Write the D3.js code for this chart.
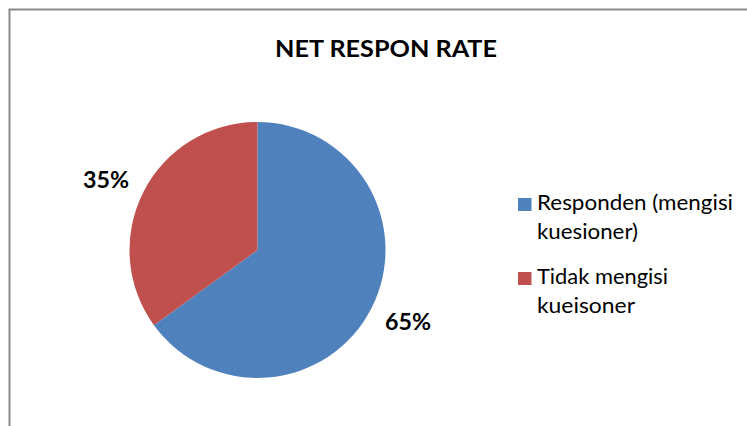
<!DOCTYPE html>
<html><head><meta charset="utf-8">
<script src="https://cdn.jsdelivr.net/npm/d3@7"></script>
<style>body{margin:0;background:#fff}svg{display:block}text{font-family:Lato,"Open Sans",sans-serif}</style>
</head><body>
<svg id="c" width="747" height="426"></svg>
<script>
const categories = ["Responden (mengisi kuesioner)", "Tidak mengisi kueisoner"];
const legendLines = [["Responden (mengisi", "kuesioner)"], ["Tidak mengisi", "kueisoner"]];
const values = [65, 35];
const labels = ["65%", "35%"];
const colors = ["#4F81BD", "#C0504D"];
const title = "NET RESPON RATE";

const svg = d3.select("#c");
svg.append("rect").attr("x", 9.5).attr("y", 9.5).attr("width", 760).attr("height", 440)
  .attr("fill", "#fff").attr("stroke", "#898989").attr("stroke-width", 2);

svg.append("text").attr("x", 275).attr("y", 57)
  .attr("font-weight", "bold").attr("font-size", 22.5).attr("fill", "#000")
  .attr("textLength", 222).attr("lengthAdjust", "spacingAndGlyphs").text(title);

const cx = 257.5, cy = 250, r = 128;
const pie = d3.pie().sort(null).value(d => d)(values);
const arc = d3.arc().innerRadius(0).outerRadius(r);
const g = svg.append("g").attr("transform", `translate(${cx},${cy})`);
g.selectAll("path").data(pie).join("path").attr("d", arc).attr("fill", (d, i) => colors[i]);

const labelPos = [[385, 330], [83, 188]];
svg.selectAll("text.lbl").data(labels).join("text").attr("class", "lbl")
  .attr("x", (d, i) => labelPos[i][0]).attr("y", (d, i) => labelPos[i][1])
  .attr("font-weight", "bold").attr("font-size", 22.5)
  .attr("textLength", 46).attr("lengthAdjust", "spacingAndGlyphs")
  .attr("fill", "#000").text(d => d);

const lg = svg.append("g");
const ly = [[210, 239], [284, 313]];
const lw = [[196, 101], [131, 98]];
categories.forEach((c, i) => {
  lg.append("rect").attr("x", 518).attr("y", ly[i][0] - 12).attr("width", 13.5).attr("height", 13).attr("fill", colors[i]);
  legendLines[i].forEach((l, j) => lg.append("text").attr("x", 537).attr("y", ly[i][j])
    .attr("font-size", 22).attr("fill", "#000")
    .attr("textLength", lw[i][j]).attr("lengthAdjust", "spacingAndGlyphs").text(l));
});
</script>
</body></html>
